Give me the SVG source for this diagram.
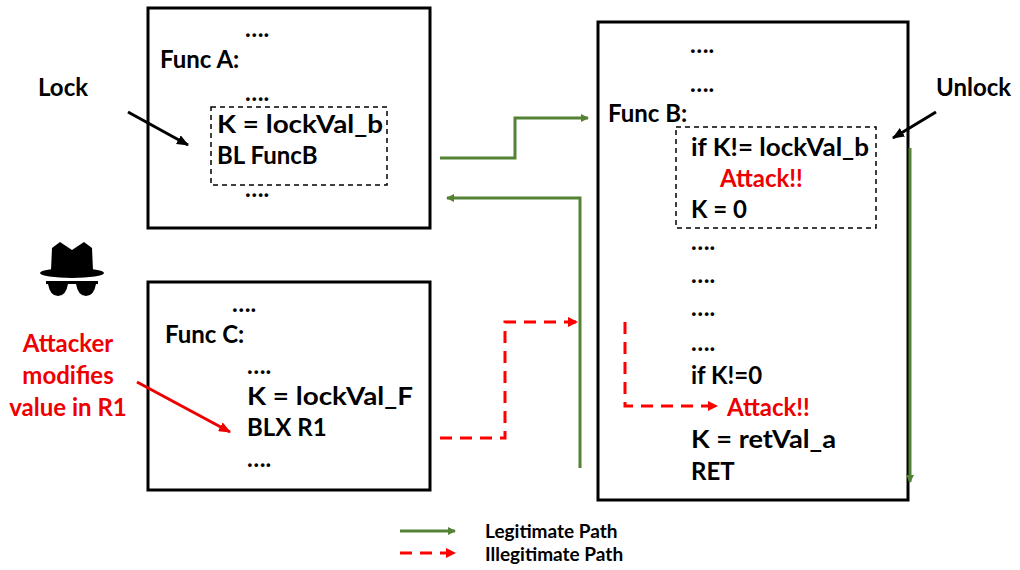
<svg xmlns="http://www.w3.org/2000/svg" width="1020" height="570" viewBox="0 0 1020 570">
<style>
text{font-family:Lato,"Open Sans","Liberation Sans",sans-serif;font-weight:bold;font-size:24px;fill:#000}
.r{fill:#e00}
.box{fill:#fff;stroke:#000;stroke-width:3}
.dash{fill:none;stroke:#000;stroke-width:1.5;stroke-dasharray:5,4}
.g{fill:none;stroke:#548235;stroke-width:3}
.rd{fill:none;stroke:#f00;stroke-width:3;stroke-dasharray:12,8}
.lg{font-size:19px}
</style>
<defs>
<marker id="ag" markerWidth="8" markerHeight="8" refX="7" refY="4" orient="auto" markerUnits="userSpaceOnUse"><path d="M0,0L8,4L0,8z" fill="#548235"/></marker>
<marker id="ar" markerWidth="10" markerHeight="10" refX="9" refY="5" orient="auto" markerUnits="userSpaceOnUse"><path d="M0,0L10,5L0,10z" fill="#f00"/></marker>
<marker id="ak" markerWidth="12" markerHeight="10" refX="11" refY="5" orient="auto" markerUnits="userSpaceOnUse"><path d="M0,0L12,5L0,10z" fill="#000"/></marker>
<marker id="akr" markerWidth="12" markerHeight="10" refX="11" refY="5" orient="auto" markerUnits="userSpaceOnUse"><path d="M0,0L12,5L0,10z" fill="#e00"/></marker>
</defs>
<rect width="1020" height="570" fill="#fff"/>
<g id="funcA">
<rect class="box" x="148" y="8" width="282" height="220"/>
<rect class="dash" x="211" y="107" width="176" height="78"/>
<text x="245" y="37">….</text><text x="160" y="68">Func A:</text><text x="245" y="101">….</text>
<text x="217" y="133" textLength="166" lengthAdjust="spacingAndGlyphs">K = lockVal_b</text><text x="217" y="164">BL FuncB</text><text x="245" y="197">….</text>
</g>
<g id="funcC">
<rect class="box" x="148" y="282" width="282" height="208"/>
<text x="232" y="312">….</text><text x="165" y="343">Func C:</text><text x="247" y="374">….</text>
<text x="247" y="405" textLength="166" lengthAdjust="spacingAndGlyphs">K = lockVal_F</text><text x="247" y="436">BLX R1</text><text x="247" y="467">….</text>
</g>
<g id="funcB">
<rect class="box" x="598" y="22" width="310" height="478"/>
<rect class="dash" x="676" y="127" width="200" height="101"/>
<text x="690" y="53">….</text><text x="690" y="92">….</text><text x="608" y="122">Func B:</text>
<text x="691" y="156" textLength="178" lengthAdjust="spacingAndGlyphs">if K!= lockVal_b</text><text class="r" x="720" y="187">Attack!!</text><text x="691" y="218">K = 0</text>
<text x="691" y="250">….</text><text x="691" y="283">….</text><text x="691" y="316">….</text><text x="691" y="351">….</text>
<text x="691" y="384">if K!=0</text><text class="r" x="727" y="416">Attack!!</text>
<text x="691" y="448" textLength="145" lengthAdjust="spacingAndGlyphs">K = retVal_a</text><text x="691" y="480">RET</text>
</g>
<g id="labels">
<text x="38" y="96">Lock</text><text x="936" y="96">Unlock</text>
<text class="r" x="68" y="352" text-anchor="middle">Attacker</text>
<text class="r" x="68" y="384" text-anchor="middle">modifies</text>
<text class="r" x="68" y="416" text-anchor="middle">value in R1</text>
</g>
<g id="spy">
<path d="M52,248 L60,242 L72,250 L84,242 L92,248 L93,270 L51,270 Z" fill="#000"/>
<ellipse cx="72" cy="273" rx="32" ry="5" fill="#000"/>
<rect x="46" y="281" width="52" height="3" fill="#000"/>
<path d="M48,284 L68,284 Q66,296 58,296 Q50,296 48,284Z M76,284 L96,284 Q94,296 86,296 Q78,296 76,284Z" fill="#000"/>
</g>
<g id="connectors">
<line x1="128" y1="112" x2="188" y2="145" stroke="#000" stroke-width="3" marker-end="url(#ak)"/>
<line x1="936" y1="112" x2="893" y2="138" stroke="#000" stroke-width="3" marker-end="url(#ak)"/>
<line x1="137" y1="382" x2="230" y2="432" stroke="#e00" stroke-width="3" marker-end="url(#akr)"/>
<polyline class="g" points="440,158 515,158 515,118 588,118" marker-end="url(#ag)"/>
<polyline class="g" points="580,468 580,198 447,198" marker-end="url(#ag)"/>
<line class="g" x1="910" y1="148" x2="910" y2="482" marker-end="url(#ag)"/>
<polyline class="rd" points="440,438 505,438 505,322 577,322" marker-end="url(#ar)"/>
<polyline class="rd" points="625,322 625,406 717,406" marker-end="url(#ar)"/>
</g>
<g id="legend">
<line class="g" x1="400" y1="531" x2="455" y2="531" marker-end="url(#ag)"/>
<text class="lg" x="485" y="538">Legitimate Path</text>
<line class="rd" x1="400" y1="553" x2="455" y2="553" stroke-dasharray="10,8" marker-end="url(#ar)"/>
<text class="lg" x="485" y="561">Illegitimate Path</text>
</g>
</svg>
